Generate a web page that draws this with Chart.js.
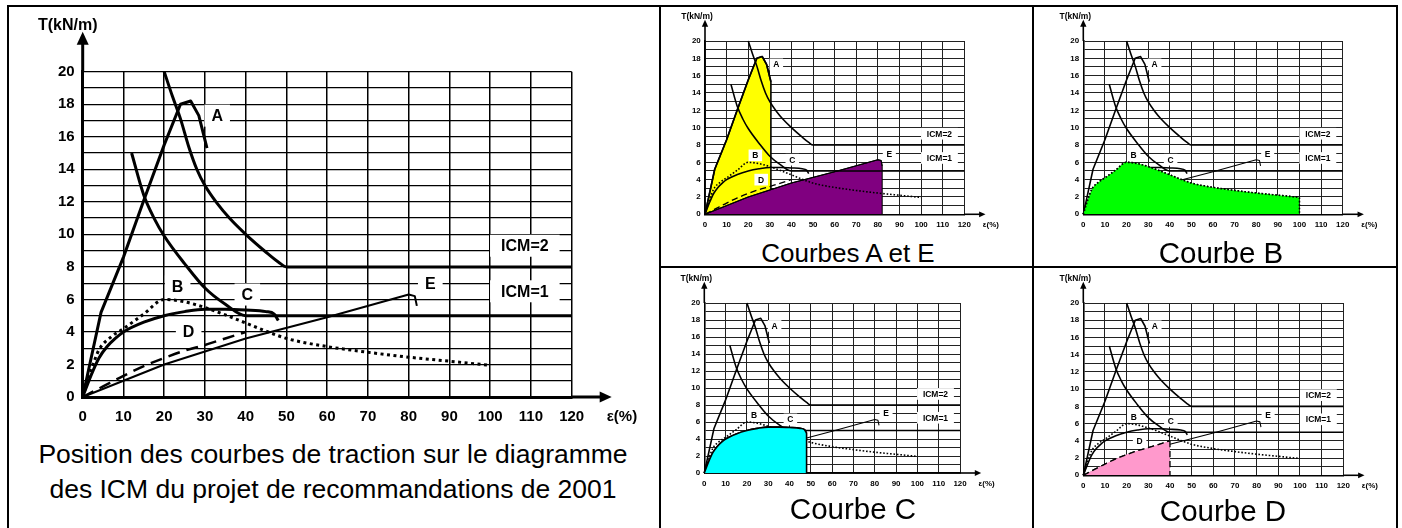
<!DOCTYPE html>
<html>
<head>
<meta charset="utf-8">
<script src="https://cdn.jsdelivr.net/npm/chart.js@4/dist/chart.umd.min.js"></script>
<style>
    body { margin: 0; width: 1402px; height: 528px; position: relative; overflow: hidden; background: #fff; font-family: "Liberation Sans", Arial, sans-serif; }
    canvas { position: absolute; }
    .line { position: absolute; background: #000; }
    .cap { position: absolute; text-align: center; color: #000; white-space: nowrap; }
</style>
</head>
<body>
<div class="line" style="left:7px;top:5px;width:2px;height:530px"></div>
<div class="line" style="left:7px;top:5px;width:1391px;height:2px"></div>
<div class="line" style="left:1396px;top:5px;width:2px;height:530px"></div>
<div class="line" style="left:659px;top:5px;width:2px;height:530px"></div>
<div class="line" style="left:1032px;top:5px;width:2px;height:530px"></div>
<div class="line" style="left:659px;top:266px;width:739px;height:2px"></div>

<div class="cap" style="left:8px;top:436.6px;width:650px;font-size:26.5px;line-height:35px">Position des courbes de traction sur le diagramme<br>des ICM du projet de recommandations de 2001</div>
<div class="cap" style="left:748px;top:239.7px;width:200px;font-size:26px;line-height:26px">Courbes A et E</div>
<div class="cap" style="left:1121px;top:238.3px;width:200px;font-size:29.5px;line-height:29.5px">Courbe B</div>
<div class="cap" style="left:753px;top:494px;width:200px;font-size:29.5px;line-height:29.5px">Courbe C</div>
<div class="cap" style="left:1123px;top:496.3px;width:200px;font-size:29.5px;line-height:29.5px">Courbe D</div>

<script>
const FONT = '"Liberation Sans", Arial, sans-serif';

// Strain ε (%) and tension T (kN/m)
const curveA_eps = [0, 4.5, 10, 15, 20, 24, 26.5, 28.5, 30.5];
const curveA_T = [0, 5.2, 8.6, 12.1, 15.5, 18, 18.2, 17.3, 15.3];

const curveB_eps = [0, 2, 4, 7, 10, 15, 20, 25, 30, 35, 40, 45, 50, 60, 70, 80, 90, 100];
const curveB_T = [0, 1.6, 2.9, 3.7, 4.2, 5.1, 6, 5.85, 5.5, 5.05, 4.55, 4.05, 3.6, 3.1, 2.75, 2.45, 2.2, 1.95];

const curveC_eps = [0, 2, 4, 6, 8, 10, 15, 20, 25, 30, 35, 40, 45, 47, 48];
const curveC_T = [0, 1.3, 2.4, 3.1, 3.6, 4, 4.6, 5, 5.25, 5.4, 5.4, 5.35, 5.25, 5.1, 4.7];

const curveD_eps = [0, 5, 10, 15, 20, 25, 30, 35, 40];
const curveD_T = [0, 0.65, 1.3, 1.9, 2.4, 2.85, 3.2, 3.6, 4.0];

const curveE_eps = [0, 20, 40, 60, 80, 81.5, 82];
const curveE_T = [0, 2, 3.6, 4.9, 6.3, 6.2, 5.6];

const icm2_eps = [20, 22, 24, 26, 28, 30, 33, 36, 40, 45, 48, 50, 120];
const icm2_T = [20, 18.5, 17.1, 15.4, 14.0, 13.0, 11.9, 11.0, 10.0, 8.9, 8.3, 8, 8];

const icm1_eps = [12, 15, 17.5, 20, 25, 30, 35, 40, 120];
const icm1_T = [15, 12.4, 11, 9.9, 8.2, 6.7, 5.7, 5, 5];

// Axis ticks and texts
const epsTicks = [0, 10, 20, 30, 40, 50, 60, 70, 80, 90, 100, 110, 120];
const tTicks = [0, 2, 4, 6, 8, 10, 12, 14, 16, 18, 20];
const yTitle = 'T(kN/m)';
const xTitle = 'ε(%)';

// Curve names and where they sit (ε, T)
const curveLabels = ['A', 'B', 'C', 'D', 'E', 'ICM=2', 'ICM=1'];
const labelAt = [[33, 17.3], [23.3, 6.8], [40.4, 6.3], [26, 4.0], [85.3, 7.0], [108.5, 9.3], [108.5, 6.5]];

const curves = {
    ICM2: { eps: icm2_eps, T: icm2_T, width: 3, smooth: true },
    ICM1: { eps: icm1_eps, T: icm1_T, width: 3, smooth: true },
    A: { eps: curveA_eps, T: curveA_T, width: 3, smooth: false },
    B: { eps: curveB_eps, T: curveB_T, width: 3, smooth: true, dash: [3, 3.5] },
    C: { eps: curveC_eps, T: curveC_T, width: 3, smooth: true },
    D: { eps: curveD_eps, T: curveD_T, width: 2.5, smooth: true, dash: [12, 7] },
    E: { eps: curveE_eps, T: curveE_T, width: 2, smooth: false }
};

// Panels: canvas box and plot area in page pixels
const panels = [
    { box: [9, 7, 650, 430], area: [82.7, 71.7, 571.7, 397], s: 1, fills: [], fillOnTop: false },
    { box: [661, 7, 371, 230], area: [705, 41, 964.3, 214.3], s: 0.53, fills: [['A', '#ffff00'], ['E', '#800080']], fillOnTop: false },
    { box: [1035, 7, 361, 230], area: [1083.3, 41, 1342.7, 214.3], s: 0.53, fills: [['B', '#00ff00']], fillOnTop: true },
    { box: [661, 268, 371, 225], area: [704.3, 303, 960, 473], s: 0.53, fills: [['C', '#00ffff']], fillOnTop: true },
    { box: [1035, 268, 361, 225], area: [1083.3, 303, 1343.3, 475.3], s: 0.53, fills: [['D', '#ff99cc']], fillOnTop: true }
];

// Make one line dataset from a curve
function lineDataset(key, s, order) {
    const c = curves[key];
    return {
        data: c.eps.map((e, i) => ({ x: e, y: c.T[i] })),
        borderColor: '#000',
        borderWidth: c.width * s,
        borderDash: c.dash ? c.dash.map(d => d * s) : [],
        borderCapStyle: 'butt',
        borderJoinStyle: 'round',
        cubicInterpolationMode: c.smooth ? 'monotone' : 'default',
        tension: 0,
        pointRadius: 0,
        fill: false,
        order: order,
        clip: false
    };
}

function buildDatasets(panel) {
    const s = panel.s;
    const sets = Object.keys(curves).map(k => lineDataset(k, s, panel.fillOnTop ? 50 : 0));
    panel.fills.forEach((f, i) => {
        const key = f[0];
        const c = curves[key];
        const ord = panel.fillOnTop ? 1 : 40 - 2 * i;
        const area = lineDataset(key, s, ord);
        area.fill = 'origin';
        area.backgroundColor = f[1];
        sets.push(area);
        // vertical edge that closes the filled area
        const last = c.eps.length - 1;
        const edge = lineDataset(key, s, ord - 1);
        edge.data = [{ x: c.eps[last], y: c.T[last] }, { x: c.eps[last], y: 0 }];
        edge.cubicInterpolationMode = 'default';
        sets.push(edge);
    });
    return sets;
}

// White boxed curve names
function drawLabels(chart, s) {
    const { ctx, scales } = chart;
    ctx.save();
    ctx.font = `bold ${16 * s}px ${FONT}`;
    ctx.textAlign = 'center';
    ctx.textBaseline = 'middle';
    curveLabels.forEach((t, i) => {
        const px = scales.x.getPixelForValue(labelAt[i][0]);
        const py = scales.y.getPixelForValue(labelAt[i][1]);
        const w = ctx.measureText(t).width + 2 * (t.length > 1 ? 11 : 7) * s;
        const h = 22 * s;
        ctx.fillStyle = '#fff';
        ctx.fillRect(px - w / 2, py - h / 2, w, h);
        ctx.fillStyle = '#000';
        ctx.fillText(t, px, py + s);
    });
    ctx.restore();
}

// Arrows on the axes and axis titles
function drawAxes(chart, s) {
    const { ctx, chartArea: a } = chart;
    ctx.save();
    ctx.strokeStyle = '#000';
    ctx.fillStyle = '#000';
    ctx.lineWidth = 3 * s;
    const yTip = a.top - 40 * s;
    ctx.beginPath();
    ctx.moveTo(a.left, a.top);
    ctx.lineTo(a.left, yTip + 8 * s);
    ctx.stroke();
    ctx.beginPath();
    ctx.moveTo(a.left, yTip);
    ctx.lineTo(a.left - 6 * s, yTip + 13 * s);
    ctx.lineTo(a.left + 6 * s, yTip + 13 * s);
    ctx.closePath();
    ctx.fill();
    const xTip = a.right + 40 * s;
    ctx.beginPath();
    ctx.moveTo(a.right, a.bottom);
    ctx.lineTo(xTip - 8 * s, a.bottom);
    ctx.stroke();
    ctx.beginPath();
    ctx.moveTo(xTip, a.bottom);
    ctx.lineTo(xTip - 12 * s, a.bottom - 5.5 * s);
    ctx.lineTo(xTip - 12 * s, a.bottom + 5.5 * s);
    ctx.closePath();
    ctx.fill();

    ctx.textBaseline = 'middle';
    ctx.font = `bold ${16 * s}px ${FONT}`;
    ctx.textAlign = 'center';
    ctx.fillText(yTitle, a.left - 15 * s, a.top - 46 * s);
    ctx.font = `bold ${15 * s}px ${FONT}`;
    ctx.textAlign = 'left';
    ctx.fillText(xTitle, a.right + 35 * s, a.bottom + 20 * s);
    ctx.restore();
}

const decorPlugin = {
    id: 'decor',
    beforeDatasetsDraw(chart, args, opts) {
        if (opts.labelsUnder) drawLabels(chart, opts.s);
    },
    afterDatasetsDraw(chart, args, opts) {
        if (!opts.labelsUnder) drawLabels(chart, opts.s);
    },
    afterDraw(chart, args, opts) {
        drawAxes(chart, opts.s);
    }
};

function makeChart(panel) {
    const [bx, by, bw, bh] = panel.box;
    const [al, at, ar, ab] = panel.area;
    const s = panel.s;
    const canvas = document.createElement('canvas');
    canvas.width = bw;
    canvas.height = bh;
    canvas.style.left = bx + 'px';
    canvas.style.top = by + 'px';
    document.body.insertBefore(canvas, document.body.firstChild);

    const tickFont = { family: FONT, size: 15 * s, weight: 'bold' };
    const gridColor = s < 1 ? '#222' : '#000';

    return new Chart(canvas.getContext('2d'), {
        type: 'line',
        data: { datasets: buildDatasets(panel) },
        options: {
            responsive: false,
            animation: false,
            events: [],
            devicePixelRatio: 1,
            layout: { padding: { left: 0, top: at - by, right: bx + bw - ar, bottom: 0 } },
            scales: {
                x: {
                    type: 'linear',
                    min: 0,
                    max: 120,
                    ticks: {
                        stepSize: 10,
                        autoSkip: false,
                        maxRotation: 0,
                        padding: 11 * s,
                        color: '#000',
                        font: tickFont,
                        callback: v => epsTicks.includes(v) ? v : ''
                    },
                    grid: { color: gridColor, lineWidth: Math.max(1, 1.5 * s), drawTicks: false },
                    border: { color: '#000', width: 3 * s },
                    afterFit: sc => { sc.height = by + bh - ab; }
                },
                y: {
                    type: 'linear',
                    min: 0,
                    max: 20,
                    ticks: {
                        stepSize: 1,
                        autoSkip: false,
                        padding: 8 * s,
                        color: '#000',
                        font: tickFont,
                        callback: v => tTicks.includes(v) ? v : ''
                    },
                    grid: { color: gridColor, lineWidth: Math.max(1, 1.2 * s), drawTicks: false },
                    border: { color: '#000', width: 3 * s },
                    afterFit: sc => { sc.width = al - bx; }
                }
            },
            plugins: {
                legend: { display: false },
                tooltip: { enabled: false },
                decor: { s: s, labelsUnder: panel.fillOnTop }
            }
        },
        plugins: [decorPlugin]
    });
}

document.addEventListener('DOMContentLoaded', function () {
    panels.forEach(makeChart);
});
</script>
</body>
</html>
